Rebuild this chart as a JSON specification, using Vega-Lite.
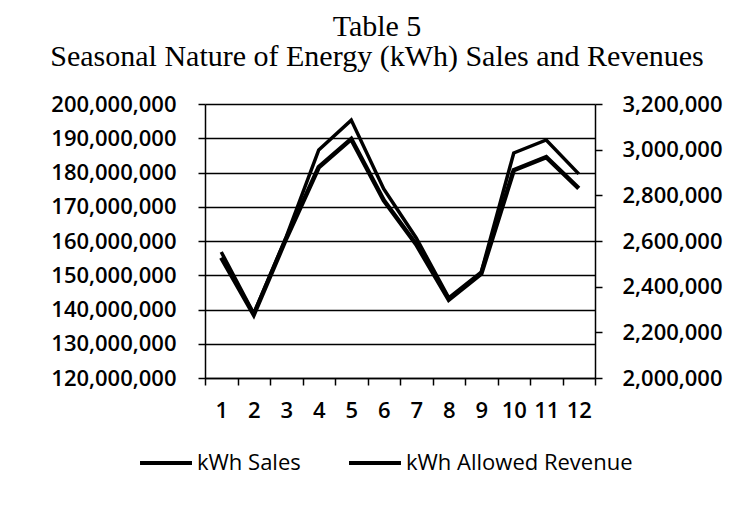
{
  "$schema": "https://vega.github.io/schema/vega-lite/v6.json",
  "width": 390,
  "height": 274,
  "autosize": "none",
  "padding": {"left": 205, "top": 104, "right": 159, "bottom": 140},
  "background": "white",
  "title": {
    "text": ["Table 5", "Seasonal Nature of Energy (kWh) Sales and Revenues"],
    "font": "Liberation Serif",
    "fontSize": 30,
    "fontWeight": "normal",
    "color": "black",
    "lineHeight": 30,
    "anchor": "middle",
    "frame": "group",
    "dx": -23,
    "offset": 21
  },
  "config": {
    "view": {"stroke": null},
    "axis": {
      "labelFont": "Open Sans",
      "labelFontSize": 22,
      "labelFontWeight": 600,
      "labelColor": "black",
      "domainColor": "black",
      "tickColor": "black",
      "gridColor": "black",
      "domainWidth": 1.5,
      "tickWidth": 1.5,
      "gridWidth": 1.5,
      "gridOpacity": 1,
      "title": null
    },
    "legend": {
      "labelFont": "Open Sans",
      "labelFontSize": 22,
      "labelColor": "black",
      "labelLimit": 400
    }
  },
  "datasets": {
    "sales": [
      {"month": 1, "series": "kWh Sales", "value": 156800000},
      {"month": 2, "series": "kWh Sales", "value": 138800000},
      {"month": 3, "series": "kWh Sales", "value": 161200000},
      {"month": 4, "series": "kWh Sales", "value": 186600000},
      {"month": 5, "series": "kWh Sales", "value": 195300000},
      {"month": 6, "series": "kWh Sales", "value": 175200000},
      {"month": 7, "series": "kWh Sales", "value": 160900000},
      {"month": 8, "series": "kWh Sales", "value": 143400000},
      {"month": 9, "series": "kWh Sales", "value": 150900000},
      {"month": 10, "series": "kWh Sales", "value": 185700000},
      {"month": 11, "series": "kWh Sales", "value": 189500000},
      {"month": 12, "series": "kWh Sales", "value": 179600000}
    ],
    "revenue": [
      {"month": 1, "series": "kWh Allowed Revenue", "value": 2527000},
      {"month": 2, "series": "kWh Allowed Revenue", "value": 2277000},
      {"month": 3, "series": "kWh Allowed Revenue", "value": 2611000},
      {"month": 4, "series": "kWh Allowed Revenue", "value": 2923000},
      {"month": 5, "series": "kWh Allowed Revenue", "value": 3046000},
      {"month": 6, "series": "kWh Allowed Revenue", "value": 2778000},
      {"month": 7, "series": "kWh Allowed Revenue", "value": 2585000},
      {"month": 8, "series": "kWh Allowed Revenue", "value": 2343000},
      {"month": 9, "series": "kWh Allowed Revenue", "value": 2457000},
      {"month": 10, "series": "kWh Allowed Revenue", "value": 2910000},
      {"month": 11, "series": "kWh Allowed Revenue", "value": 2967000},
      {"month": 12, "series": "kWh Allowed Revenue", "value": 2831000}
    ]
  },
  "encoding": {
    "x": {
      "field": "month",
      "type": "ordinal",
      "bandPosition": 0.5,
      "scale": {"type": "band", "paddingInner": 0, "paddingOuter": 0, "domain": [1,2,3,4,5,6,7,8,9,10,11,12]},
      "axis": {"tickBand": "extent", "tickSize": 7, "labelPadding": 15, "labelAngle": 0, "grid": false}
    },
    "color": {
      "field": "series",
      "type": "nominal",
      "scale": {"domain": ["kWh Sales", "kWh Allowed Revenue"], "range": ["black", "black"]},
      "legend": {
        "orient": "none",
        "direction": "horizontal",
        "legendX": -67,
        "legendY": 331,
        "title": null,
        "symbolType": "stroke",
        "symbolSize": 2700,
        "symbolStrokeWidth": 4,
        "columnPadding": 40,
        "labelOffset": 3
      }
    }
  },
  "layer": [
    {
      "data": {"name": "sales"},
      "mark": {"type": "line", "strokeWidth": 3.5},
      "encoding": {
        "y": {
          "field": "value",
          "type": "quantitative",
          "scale": {"domain": [120000000, 200000000], "zero": false, "nice": false},
          "axis": {
            "orient": "left",
            "values": [120000000,130000000,140000000,150000000,160000000,170000000,180000000,190000000,200000000],
            "format": ",.0f",
            "formatType": "number",
            "grid": true,
            "tickSize": 7,
            "labelPadding": 22
          }
        }
      }
    },
    {
      "data": {"name": "revenue"},
      "mark": {"type": "line", "strokeWidth": 4.5},
      "encoding": {
        "y": {
          "field": "value",
          "type": "quantitative",
          "scale": {"domain": [2000000, 3200000], "zero": false, "nice": false},
          "axis": {
            "orient": "right",
            "values": [2000000,2200000,2400000,2600000,2800000,3000000,3200000],
            "format": ",.0f",
            "formatType": "number",
            "grid": false,
            "tickSize": 7,
            "labelPadding": 20
          }
        }
      }
    }
  ],
  "resolve": {"scale": {"y": "independent"}}
}
